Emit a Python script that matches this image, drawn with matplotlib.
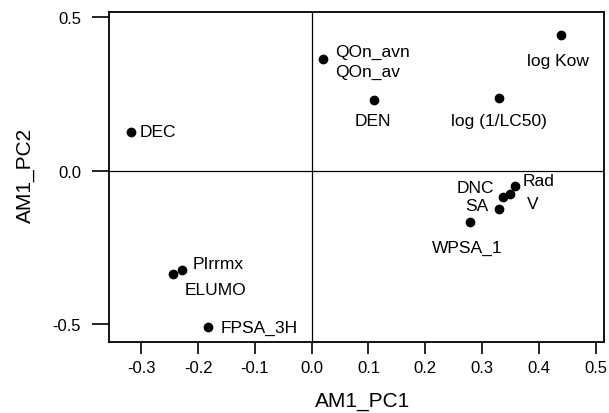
import matplotlib
matplotlib.use("Agg")
import matplotlib.pyplot as plt

plt.rcParams['font.family'] = ['Liberation Sans', 'DejaVu Sans']

# loadings
names = ['DEC', 'QOn_avn', 'DEN', 'log Kow', 'log (1/LC50)',
         'Rad', 'V', 'DNC', 'SA', 'WPSA_1', 'PIrrmx', 'ELUMO', 'FPSA_3H']
pc1 = [-0.319, 0.020, 0.110, 0.439, 0.329,
       0.358, 0.349, 0.337, 0.329, 0.279, -0.229, -0.244, -0.182]
pc2 = [0.127, 0.364, 0.231, 0.443, 0.237,
       -0.049, -0.076, -0.087, -0.125, -0.168, -0.323, -0.337, -0.511]

# second label sharing the QOn_avn point
extra_name = 'QOn_av'

# label offsets in pixels (dx, dy, ha)
offsets = {
    'DEC': (9, 0, 'left'),
    'QOn_avn': (12, 8, 'left'),
    'DEN': (-1, -21, 'center'),
    'log Kow': (-3, -26, 'center'),
    'log (1/LC50)': (0, -23, 'center'),
    'Rad': (8, 5, 'left'),
    'V': (17, -10, 'left'),
    'DNC': (-28, 10, 'center'),
    'SA': (-22, 3, 'center'),
    'WPSA_1': (-3, -25, 'center'),
    'PIrrmx': (11, 6, 'left'),
    'ELUMO': (42, -15, 'center'),
    'FPSA_3H': (12, 0, 'left'),
}

fig = plt.figure(figsize=(6.09, 4.14), dpi=100)
ax = fig.add_axes([0.179, 0.1727, 0.813, 0.7966])

ax.axhline(0, color='black', lw=0.9, zorder=1)
ax.axvline(0, color='black', lw=0.9, zorder=1)
ax.plot(pc1, pc2, 'o', color='black', markersize=6, zorder=3)

for n, x, y in zip(names, pc1, pc2):
    dx, dy, ha = offsets[n]
    ax.annotate(n, (x, y), xytext=(dx, dy), textcoords='offset pixels',
                ha=ha, va='center', fontsize=12.5)
ax.annotate(extra_name, (pc1[1], pc2[1]), xytext=(12, -12),
            textcoords='offset pixels', ha='left', va='center', fontsize=12.5)

ax.set_xlim(-0.357, 0.515)
ax.set_ylim(-0.557, 0.518)
ax.set_xticks([-0.3, -0.2, -0.1, 0.0, 0.1, 0.2, 0.3, 0.4, 0.5])
ax.set_xticklabels(['-0.3', '-0.2', '-0.1', '0.0', '0.1', '0.2', '0.3', '0.4', '0.5'])
ax.set_yticks([-0.5, 0.0, 0.5])
ax.set_yticklabels(['-0.5', '0.0', '0.5'])
ax.tick_params(axis='x', length=8.6, width=1.2, pad=5, labelsize=12)
ax.tick_params(axis='y', length=12.2, width=1.2, pad=8, labelsize=12)
for s in ax.spines.values():
    s.set_linewidth(1.3)

fig.text(363 / 609, 1 - 401.7 / 414, 'AM1_PC1', ha='center', va='center', fontsize=15)
fig.text(25 / 609, 1 - 175 / 414, 'AM1_PC2', ha='center', va='center',
         rotation=90, fontsize=15)

fig.savefig('out.png', dpi=100)
